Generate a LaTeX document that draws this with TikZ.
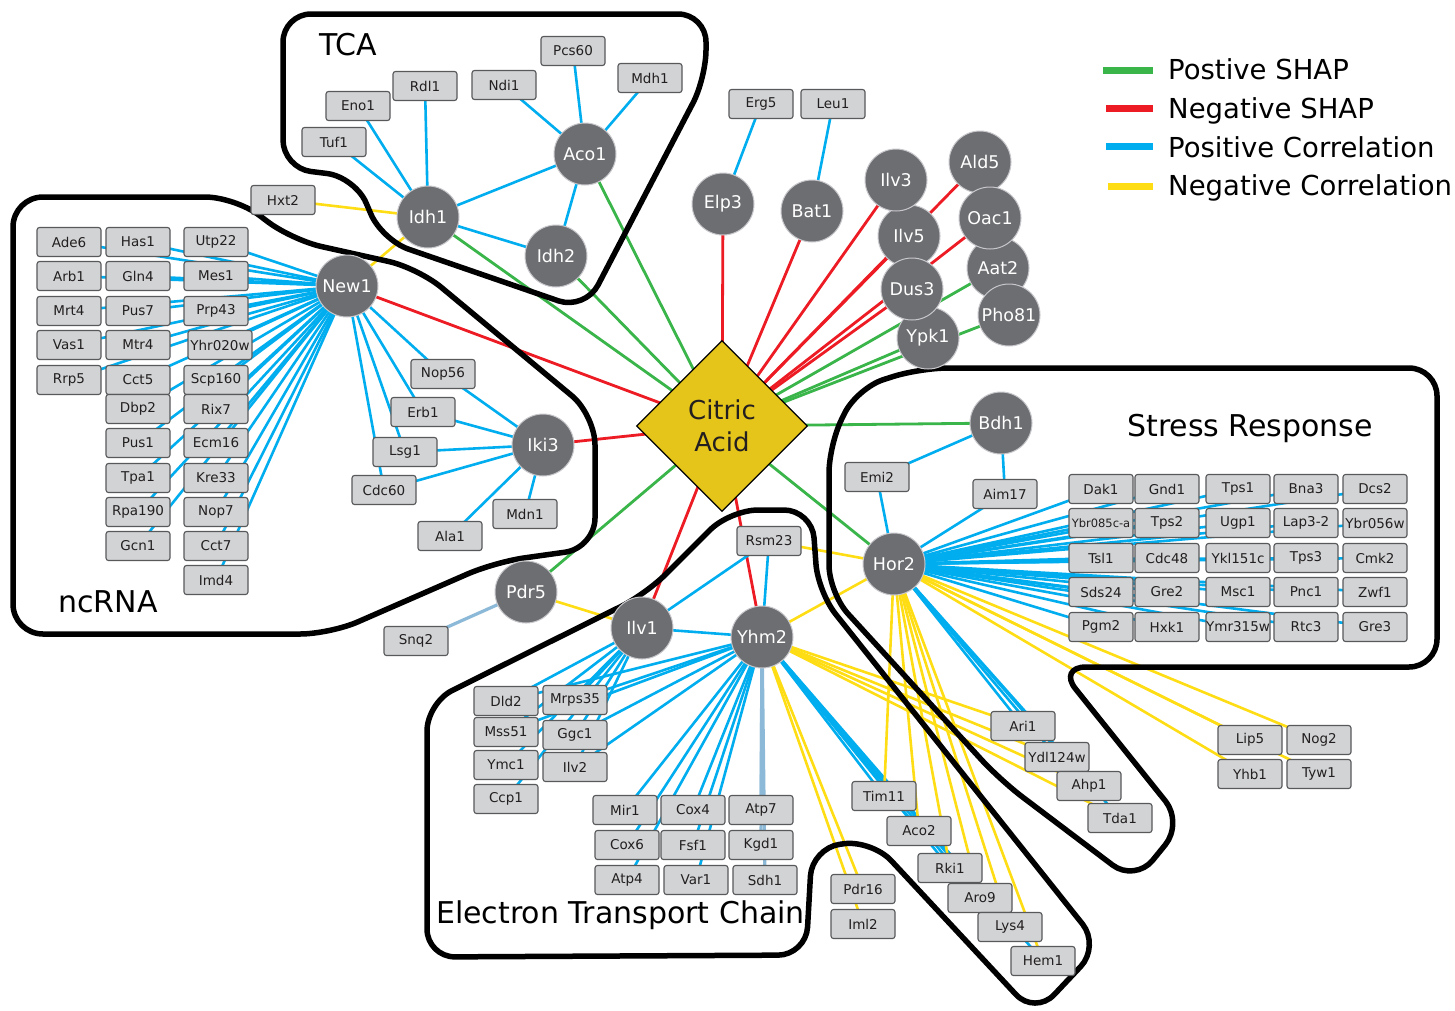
\documentclass[tikz,border=0pt]{standalone}
\usepackage{fontspec}
\setmainfont{DejaVu Sans}
\usetikzlibrary{shapes.geometric}
\definecolor{gshap}{RGB}{57,181,74}
\definecolor{rshap}{RGB}{237,28,36}
\definecolor{bcorr}{RGB}{0,174,239}
\definecolor{ycorr}{RGB}{255,221,21}
\definecolor{lbcorr}{RGB}{140,185,215}
\definecolor{boxfill}{RGB}{209,211,212}
\definecolor{boxline}{RGB}{88,89,91}
\definecolor{nodefill}{RGB}{109,110,113}
\definecolor{ringc}{RGB}{200,200,204}
\definecolor{goldc}{RGB}{230,197,26}
\definecolor{txt}{RGB}{35,31,32}
\pgfdeclarelayer{bglayer}
\pgfdeclarelayer{edgelayer}
\pgfdeclarelayer{outlayer}
\pgfsetlayers{bglayer,edgelayer,outlayer,main}
\tikzset{
 gbox/.style={draw=boxline, fill=boxfill, rounded corners=2.5pt, line width=1.1pt, minimum width=64pt, minimum height=29pt, inner sep=0pt, font=\fontsize{13.5}{13.5}\selectfont, text=txt},
 gnode/.style={circle, draw=ringc, fill=nodefill, line width=1pt, minimum size=62pt, inner sep=0pt, text=white, font=\fontsize{17.5}{17.5}\selectfont},
 pshap/.style={draw=gshap, line width=2.8pt},
 nshap/.style={draw=rshap, line width=2.8pt},
 pcor/.style={draw=bcorr, line width=2.6pt},
 ncor/.style={draw=ycorr, line width=2.6pt},
 lcor/.style={draw=lbcorr, line width=3.2pt},
 regionline/.style={draw=black, line width=5.5pt},
 biglabel/.style={anchor=base west, inner sep=0pt, font=\fontsize{30}{30}\selectfont, text=black},
 legtext/.style={anchor=base west, inner sep=0pt, font=\fontsize{27.5}{27.5}\selectfont, text=black},
}
\begin{document}
\begin{tikzpicture}[x=1pt,y=-1pt]
\useasboundingbox (0,0) rectangle (1455,1010);
\begin{pgfonlayer}{bglayer}
\fill[white] (0,0) rectangle (1455,1010);
\end{pgfonlayer}

% ---------- TCA ----------
\node[gbox] (pcs) at (573,51) {Pcs60};
\node[gbox] (mdh) at (650,78) {Mdh1};
\node[gbox] (ndi) at (504,85) {Ndi1};
\node[gbox] (rdl) at (425,86) {Rdl1};
\node[gbox] (eno) at (358,106) {Eno1};
\node[gbox] (tuf) at (334,142) {Tuf1};
\node[gbox] (hxt) at (283,200) {Hxt2};
\node[gnode] (aco1) at (585,154) {Aco1};
\node[gnode] (idh1) at (428,217) {Idh1};
\node[gnode] (idh2) at (556,256) {Idh2};

% ---------- ncRNA ----------
\node[gbox] (ade6) at (69,242) {Ade6};
\node[gbox] (arb1) at (69,276) {Arb1};
\node[gbox] (mrt4) at (69,311) {Mrt4};
\node[gbox] (vas1) at (69,345) {Vas1};
\node[gbox] (rrp5) at (69,380) {Rrp5};
\node[gbox] (has1) at (138,242) {Has1};
\node[gbox] (gln4) at (138,276) {Gln4};
\node[gbox] (pus7) at (138,311) {Pus7};
\node[gbox] (mtr4) at (138,345) {Mtr4};
\node[gbox] (cct5) at (138,380) {Cct5};
\node[gbox] (dbp2) at (138,409) {Dbp2};
\node[gbox] (pus1) at (138,443) {Pus1};
\node[gbox] (tpa1) at (138,478) {Tpa1};
\node[gbox] (rpa190) at (138,512) {Rpa190};
\node[gbox] (gcn1) at (138,546) {Gcn1};
\node[gbox] (utp22) at (216,242) {Utp22};
\node[gbox] (mes1) at (216,276) {Mes1};
\node[gbox] (prp43) at (216,311) {Prp43};
\node[gbox] (yhr) at (220,345) {Yhr020w};
\node[gbox] (scp160) at (216,380) {Scp160};
\node[gbox] (rix7) at (216,409) {Rix7};
\node[gbox] (ecm16) at (216,443) {Ecm16};
\node[gbox] (kre33) at (216,478) {Kre33};
\node[gbox] (nop7) at (216,512) {Nop7};
\node[gbox] (cct7) at (216,546) {Cct7};
\node[gbox] (imd4) at (216,580) {Imd4};
\node[gnode] (new1) at (347,286) {New1};
\node[gbox] (nop56) at (443,374) {Nop56};
\node[gbox] (erb1) at (423,412) {Erb1};
\node[gbox] (lsg1) at (405,452) {Lsg1};
\node[gbox] (cdc60) at (384,490) {Cdc60};
\node[gbox] (ala1) at (450,536) {Ala1};
\node[gbox] (mdn1) at (525,514) {Mdn1};
\node[gnode] (iki3) at (543,445) {Iki3};

% ---------- top ----------
\node[gbox] (erg5) at (761,104) {Erg5};
\node[gbox] (leu1) at (833,104) {Leu1};
\node[gnode] (elp3) at (723,204) {Elp3};
\node[gnode] (bat1) at (812,211) {Bat1};
\node[gnode] (aat2) at (998,268) {Aat2};
\node[gnode] (ald5) at (980,162) {Ald5};
\node[gnode] (oac1) at (990,218) {Oac1};
\node[gnode] (pho81) at (1009,315) {Pho81};
\node[gnode] (ilv5) at (909,236) {Ilv5};
\node[gnode] (ilv3) at (896,180) {Ilv3};
\node[gnode] (ypk1) at (928,338) {Ypk1};
\node[gnode] (dus3) at (912,289) {Dus3};

% ---------- centre ----------
\node[diamond, draw=black, fill=goldc, line width=1.2pt, minimum width=171pt, minimum height=171pt, inner sep=0pt, align=center, text=txt, font=\fontsize{26}{32}\selectfont] (ca) at (722,426) {Citric\\Acid};

% ---------- stress ----------
\node[gnode] (bdh1) at (1001,423) {Bdh1};
\node[gbox] (emi2) at (877,477) {Emi2};
\node[gbox] (aim17) at (1005,494) {Aim17};
\node[gnode] (hor2) at (894,564) {Hor2};
\node[gbox] (dak1) at (1101,489) {Dak1};
\node[gbox] (gnd1) at (1167,489) {Gnd1};
\node[gbox] (tps1) at (1238,489) {Tps1};
\node[gbox] (bna3) at (1306,489) {Bna3};
\node[gbox] (dcs2) at (1375,489) {Dcs2};
\node[gbox, font=\fontsize{11.5}{11.5}\selectfont] (ybr085) at (1101,523) {Ybr085c-a};
\node[gbox] (tps2) at (1167,523) {Tps2};
\node[gbox] (ugp1) at (1238,523) {Ugp1};
\node[gbox] (lap3) at (1306,523) {Lap3-2};
\node[gbox] (ybr056) at (1375,523) {Ybr056w};
\node[gbox] (tsl1) at (1101,558) {Tsl1};
\node[gbox] (cdc48) at (1167,558) {Cdc48};
\node[gbox] (ykl) at (1238,558) {Ykl151c};
\node[gbox] (tps3) at (1306,558) {Tps3};
\node[gbox] (cmk2) at (1375,558) {Cmk2};
\node[gbox] (sds24) at (1101,592) {Sds24};
\node[gbox] (gre2) at (1167,592) {Gre2};
\node[gbox] (msc1) at (1238,592) {Msc1};
\node[gbox] (pnc1) at (1306,592) {Pnc1};
\node[gbox] (zwf1) at (1375,592) {Zwf1};
\node[gbox] (pgm2) at (1101,627) {Pgm2};
\node[gbox] (hxk1) at (1167,627) {Hxk1};
\node[gbox] (ymr) at (1238,627) {Ymr315w};
\node[gbox] (rtc3) at (1306,627) {Rtc3};
\node[gbox] (gre3) at (1375,627) {Gre3};

% ---------- ETC ----------
\node[gnode] (pdr5) at (526,592) {Pdr5};
\node[gbox] (snq2) at (416,641) {Snq2};
\node[gbox] (rsm23) at (769,541) {Rsm23};
\node[gnode] (ilv1) at (642,628) {Ilv1};
\node[gnode] (yhm2) at (762,637) {Yhm2};
\node[gbox] (dld2) at (506,701) {Dld2};
\node[gbox] (mrps35) at (575,700) {Mrps35};
\node[gbox] (mss51) at (506,732) {Mss51};
\node[gbox] (ggc1) at (575,735) {Ggc1};
\node[gbox] (ymc1) at (506,765) {Ymc1};
\node[gbox] (ilv2) at (575,767) {Ilv2};
\node[gbox] (ccp1) at (506,799) {Ccp1};
\node[gbox] (mir1) at (625,810) {Mir1};
\node[gbox] (cox4) at (693,810) {Cox4};
\node[gbox] (atp7) at (761,810) {Atp7};
\node[gbox] (cox6) at (627,845) {Cox6};
\node[gbox] (fsf1) at (693,845) {Fsf1};
\node[gbox] (kgd1) at (761,845) {Kgd1};
\node[gbox] (atp4) at (627,880) {Atp4};
\node[gbox] (var1) at (696,880) {Var1};
\node[gbox] (sdh1) at (765,880) {Sdh1};

% ---------- bottom right ----------
\node[gbox] (ari1) at (1023,726) {Ari1};
\node[gbox] (ydl) at (1057,757) {Ydl124w};
\node[gbox] (ahp1) at (1089,786) {Ahp1};
\node[gbox] (tda1) at (1120,818) {Tda1};
\node[gbox] (tim11) at (884,796) {Tim11};
\node[gbox] (aco2) at (919,831) {Aco2};
\node[gbox] (rki1) at (950,868) {Rki1};
\node[gbox] (aro9) at (980,898) {Aro9};
\node[gbox] (lys4) at (1010,927) {Lys4};
\node[gbox] (hem1) at (1043,961) {Hem1};
\node[gbox] (pdr16) at (863,889) {Pdr16};
\node[gbox] (iml2) at (863,924) {Iml2};
\node[gbox] (lip5) at (1250,740) {Lip5};
\node[gbox] (nog2) at (1319,740) {Nog2};
\node[gbox] (yhb1) at (1250,774) {Yhb1};
\node[gbox] (tyw1) at (1319,774) {Tyw1};

% ---------- region labels ----------
\node[biglabel] (ltca) at (319,55) {TCA};
\node[biglabel] (lnc) at (58,612) {ncRNA};
\node[biglabel] (lstress) at (1127,436) {Stress Response};
\node[biglabel] (letc) at (436,923) {Electron Transport Chain};

% ---------- legend ----------
\draw[draw=gshap, line width=7pt] (1103,70) -- (1153,70);
\draw[draw=rshap, line width=7pt] (1106,108) -- (1153,108);
\draw[draw=bcorr, line width=7pt] (1106,146) -- (1153,146);
\draw[draw=ycorr, line width=7pt] (1108,186) -- (1153,186);
\node[legtext] (lg1) at (1168,79) {Postive SHAP};
\node[legtext] (lg2) at (1168,118) {Negative SHAP};
\node[legtext] (lg3) at (1168,157) {Positive Correlation};
\node[legtext] (lg4) at (1168,195) {Negative Correlation};

% ---------- region outlines ----------
\begin{pgfonlayer}{outlayer}
\draw[regionline, rounded corners=28pt] (283,100) -- (283,14) -- (706,14) -- (706,78) -- (585,310) -- (382,240) -- (355,177) -- (283,168) -- cycle;
\draw[regionline, rounded corners=30pt] (13,400) -- (13,197) -- (235,197) -- (292,240) -- (418,268) -- (595,415) -- (595,548) -- (495,562) -- (330,634) -- (13,634) -- cycle;
\draw[regionline, rounded corners=28pt] (427,850) -- (427,703) -- (646,594) -- (730,510) -- (812,510) -- (818,592) -- (1100,946) -- (1035,1015) -- (872,840) -- (812,848) -- (806,955) -- (427,957) -- cycle;
\draw[regionline, rounded corners=28pt] (1437,500) -- (1437,667) -- (1058,667) -- (1183,823) -- (1135,882) -- (1000,780) -- (829,593) -- (829,445) -- (857,388) -- (920,368) -- (1437,368) -- cycle;
\end{pgfonlayer}

% ---------- edges ----------
\begin{pgfonlayer}{edgelayer}
% SHAP
\foreach \t in {idh1,idh2,aco1,aat2,pho81,ypk1,bdh1,hor2,pdr5} \draw[pshap] (ca.center) -- (\t.center);
\foreach \t in {new1,iki3,elp3,bat1,ilv3,ilv5,ald5,oac1,dus3,ilv1,yhm2} \draw[nshap] (ca.center) -- (\t.center);
% TCA
\draw[pcor] (elp3.center) -- (erg5.center);
\draw[pcor] (bat1.center) -- (leu1.center);
\foreach \t in {tuf,eno,rdl,aco1,idh2} \draw[pcor] (idh1.center) -- (\t.center);
\foreach \t in {ndi,pcs,mdh,idh2} \draw[pcor] (aco1.center) -- (\t.center);
\draw[ncor] (idh1.center) -- (hxt.center);
\draw[ncor] (idh1.center) -- (new1.center);
% ncRNA
\foreach \t in {ade6,arb1,mrt4,vas1,rrp5,has1,gln4,pus7,mtr4,cct5,dbp2,pus1,tpa1,rpa190,gcn1,utp22,mes1,prp43,yhr,scp160,rix7,ecm16,kre33,nop7,cct7,imd4,nop56,erb1,lsg1,cdc60} \draw[pcor] (new1.center) -- (\t.center);
\foreach \t in {nop56,erb1,lsg1,cdc60,ala1,mdn1} \draw[pcor] (iki3.center) -- (\t.center);
% ETC
\draw[lcor] (pdr5.center) -- (snq2.center);
\draw[ncor] (pdr5.center) -- (ilv1.center);
\draw[pcor] (ilv1.center) -- (rsm23.center);
\draw[pcor] (ilv1.center) -- (yhm2.center);
\draw[pcor] (rsm23.center) -- (yhm2.center);
\foreach \t in {dld2,mrps35,mss51,ggc1,ymc1,ilv2,ccp1} \draw[pcor] (ilv1.center) -- (\t.center);
\foreach \t in {dld2,mrps35,mss51,ggc1,ilv2,mir1,cox4,cox6,fsf1,atp4,var1,tim11,aco2,rki1,aro9,lys4,hem1} \draw[pcor] (yhm2.center) -- (\t.center);
\foreach \t in {atp7,kgd1,sdh1} \draw[lcor] (yhm2.center) -- (\t.center);
\foreach \t in {ari1,ydl,ahp1,tda1,pdr16,iml2,hor2} \draw[ncor] (yhm2.center) -- (\t.center);
\draw[ncor] (rsm23.center) -- (hor2.center);
% stress
\draw[pcor] (hor2.center) -- (emi2.center);
\draw[pcor] (hor2.center) -- (aim17.center);
\draw[pcor] (bdh1.center) -- (emi2.center);
\draw[pcor] (bdh1.center) -- (aim17.center);
\foreach \t in {dak1,gnd1,tps1,bna3,dcs2,ybr085,tps2,ugp1,lap3,ybr056,tsl1,cdc48,ykl,tps3,cmk2,sds24,gre2,msc1,pnc1,zwf1,pgm2,hxk1,ymr,rtc3,gre3,ari1,ydl,ahp1,tda1} \draw[pcor] (hor2.center) -- (\t.center);
\foreach \t in {tim11,aco2,rki1,aro9,lys4,hem1,lip5,nog2,yhb1,tyw1} \draw[ncor] (hor2.center) -- (\t.center);
\end{pgfonlayer}
\end{tikzpicture}
\end{document}
